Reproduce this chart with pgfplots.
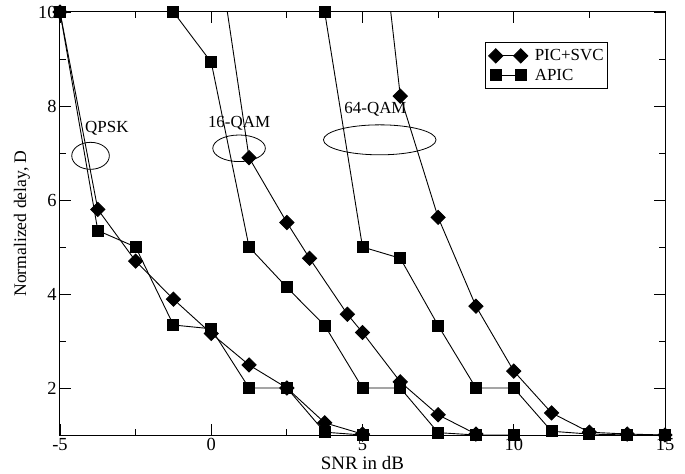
\documentclass[border=0pt]{standalone}
\usepackage{fontspec}
\setmainfont{Liberation Serif}
\usepackage{pgfplots}
\pgfplotsset{compat=1.18}
\pgfplotsset{
  dia/.style={black, line width=0.9bp, mark=square*, mark size=5bp, mark options={rotate=45, solid, fill=black}},
  sq/.style={black, line width=0.9bp, mark=square*, mark size=5.5bp, mark options={solid, fill=black}},
}
\begin{document}
\begin{tikzpicture}
\begin{axis}[
  scale only axis, width=605bp, height=423bp,
  xmin=-5, xmax=15, ymin=1, ymax=10,
  xtick={-5,0,5,10,15}, minor xtick={-2.5,2.5,7.5,12.5},
  ytick={2,4,6,8,10}, minor ytick={3,5,7,9},
  major tick length=11bp, minor tick length=6bp,
  tick style={black, line width=0.9bp},
  axis line style={line width=1bp},
  /pgf/number format/assume math mode=true,
  tick label style={font=\fontsize{18.5}{20}\selectfont},
  xlabel={SNR in dB}, ylabel={Normalized delay, D},
  xlabel style={font=\fontsize{19}{20}\selectfont, at={(axis description cs:0.5,-0.066)}, anchor=center},
  ylabel style={font=\fontsize{17.7}{20}\selectfont, at={(axis description cs:-0.063,0.5)}, anchor=center},
  legend style={at={(rel axis cs:0.906,0.929)}, anchor=north east, draw=black, line width=0.9bp,
    font=\fontsize{17}{18}\selectfont, inner xsep=3bp, inner ysep=6bp, row sep=4.8bp, column sep=0bp,
    nodes={inner sep=1bp}, cells={anchor=west}},
  legend image code/.code={\draw[#1, mark repeat=1, mark phase=1] plot coordinates {(0bp,0bp) (25bp,0bp)};},
]
% QPSK
\addplot[dia] coordinates {(-5,10) (-3.75,5.8) (-2.5,4.70) (-1.25,3.89) (0,3.16) (1.25,2.49) (2.5,2.0) (3.75,1.26) (5,1.02)};
\addlegendentry{\hspace{6bp}PIC+SVC}
\addplot[sq] coordinates {(-5,10) (-3.75,5.35) (-2.5,5.0) (-1.25,3.34) (0,3.26) (1.25,2.0) (2.5,2.0) (3.75,1.06) (5,1.0)};
\addlegendentry{\hspace{6bp}APIC}
% 16-QAM
\addplot[black, line width=0.9bp, no marks, forget plot] coordinates {(0,12.3) (1.25,6.9)};
\addplot[dia, forget plot] coordinates {(1.25,6.9) (2.5,5.52) (3.25,4.76) (4.5,3.57) (5,3.18) (6.25,2.13) (7.5,1.43) (8.75,1.02)};
\addplot[sq, forget plot] coordinates {(-1.25,10) (0,8.93) (1.25,5.0) (2.5,4.14) (3.75,3.33) (5,2.0) (6.25,2.0) (7.5,1.05) (8.75,1.0) (10,1.0)};
% 64-QAM
\addplot[black, line width=0.9bp, no marks, forget plot] coordinates {(5,15.3) (6.25,8.21)};
\addplot[dia, forget plot] coordinates {(6.25,8.21) (7.5,5.63) (8.75,3.74) (10,2.36) (11.25,1.47) (12.5,1.06) (13.75,1.02) (15,1.0)};
\addplot[sq, forget plot] coordinates {(3.75,10) (5,5.0) (6.25,4.76) (7.5,3.33) (8.75,2.0) (10,2.0) (11.25,1.08) (12.5,1.02) (13.75,1.0) (15,1.0)};
% annotations
\draw[line width=0.8bp] (axis cs:-3.99,6.94) ellipse [x radius=18.8bp, y radius=13.5bp];
\draw[line width=0.8bp] (axis cs:0.92,7.10) ellipse [x radius=26.3bp, y radius=13.3bp];
\draw[line width=0.8bp] (axis cs:5.57,7.28) ellipse [x radius=56.3bp, y radius=15bp];
\node[font=\fontsize{17}{20}\selectfont, inner sep=0pt] at (axis cs:-3.45,7.53) {QPSK};
\node[font=\fontsize{17}{20}\selectfont, inner sep=0pt] at (axis cs:0.92,7.64) {16-QAM};
\node[font=\fontsize{17}{20}\selectfont, inner sep=0pt] at (axis cs:5.43,7.93) {64-QAM};
\coordinate (bl) at (rel axis cs:0,0);
\coordinate (tr) at (rel axis cs:1,1);
\end{axis}
\pgfresetboundingbox
\path[use as bounding box] ([xshift=-60bp,yshift=-39bp]bl) rectangle ([xshift=20bp,yshift=12bp]tr);
\end{tikzpicture}
\end{document}
